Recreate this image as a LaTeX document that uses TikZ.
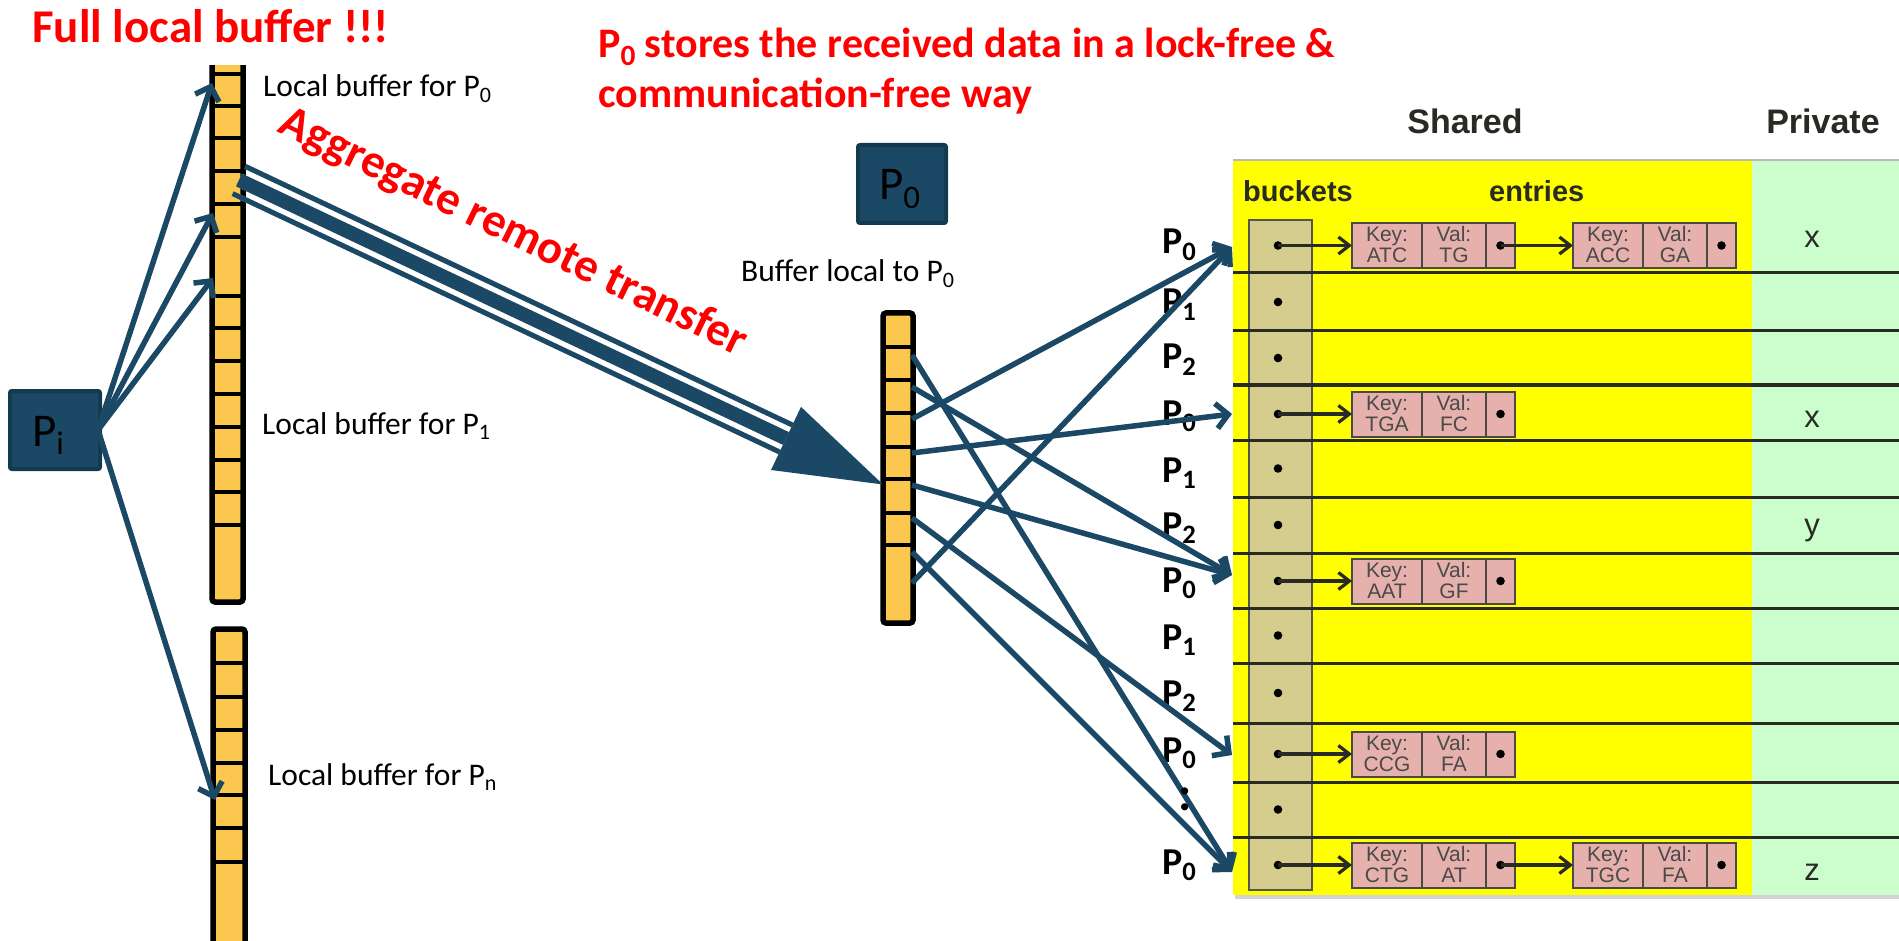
\documentclass[tikz,border=0pt]{standalone}
\usepackage{fontspec}
\usepackage{graphicx}
\setmainfont{Carlito}
\newfontfamily\tablefont{Liberation Sans}
\usetikzlibrary{arrows.meta}

\definecolor{procblue}{HTML}{1B4965}
\definecolor{procedge}{HTML}{143A50}
\definecolor{cellgold}{HTML}{FCC74F}
\definecolor{shareyellow}{HTML}{FFFF00}
\definecolor{privgreen}{HTML}{CCFDCC}
\definecolor{bucketkhaki}{HTML}{D5CD8E}
\definecolor{entrypink}{HTML}{E6B1AC}
\definecolor{tableline}{HTML}{2A2A24}
\definecolor{entrytext}{HTML}{4A4A4A}
\definecolor{alertred}{HTML}{FF0000}
\definecolor{softshadow}{HTML}{C4C4C4}

% subscript used in the processor names
\newcommand\psub[1]{\raisebox{-0.18em}{\scalebox{0.7}{#1}}}

% one hash-table entry: name, left x, centre y, key, value
\newcommand\hentry[5]{%
  \draw[entrybox] (#2,#3-22.5) rectangle (#2+163,#3+22.5);
  \draw[entrydiv] (#2+70,#3-22.5) -- (#2+70,#3+22.5);
  \draw[entrydiv] (#2+134,#3-22.5) -- (#2+134,#3+22.5);
  \node[entrytxt] (#1-k1) at (#2+35,#3-4) {Key:};
  \node[entrytxt] (#1-k2) at (#2+35,#3+17.5) {#4};
  \node[entrytxt] (#1-v1) at (#2+102,#3-4) {Val:};
  \node[entrytxt] (#1-v2) at (#2+102,#3+17.5) {#5};
  \fill[black] (#2+148.5,#3) circle (4.3pt);
  \coordinate (#1-in) at (#2,#3);
  \coordinate (#1-ptr) at (#2+148.5,#3);
}

\tikzset{
  link/.style={draw=procblue, line width=5.5pt, -{Straight Barb[length=12pt, width=25pt]}},
  proc/.style={fill=procblue, draw=procedge, line width=4pt, rounded corners=2pt, inner sep=0pt},
  proctext/.style={font=\fontsize{47pt}{50pt}\selectfont, text=black, inner sep=0pt},
  bufbox/.style={fill=cellgold, draw=black, line width=5.5pt, rounded corners=3pt},
  bufline/.style={draw=black, line width=4.5pt},
  bufnote/.style={font=\fontsize{31.5pt}{34pt}\selectfont, inner sep=0pt, anchor=base west},
  redhead/.style={font=\bfseries\fontsize{47pt}{50pt}\selectfont, text=alertred, inner sep=0pt},
  rednote/.style={font=\bfseries\fontsize{42pt}{46pt}\selectfont, text=alertred, inner sep=0pt, anchor=base west},
  plabel/.style={font=\bfseries\fontsize{38pt}{40pt}\selectfont, inner sep=0pt, anchor=base west},
  rowline/.style={draw=tableline, line width=3pt},
  bucketcol/.style={fill=bucketkhaki, draw=tableline!80, line width=2.5pt},
  entrybox/.style={fill=entrypink, draw=tableline!85, line width=2pt},
  entrydiv/.style={draw=tableline!85, line width=2pt},
  entrytxt/.style={font=\tablefont\fontsize{21pt}{21pt}\selectfont, text=entrytext, inner sep=0pt, anchor=base},
  colhead/.style={font=\tablefont\bfseries\fontsize{34pt}{36pt}\selectfont, text=tableline, inner sep=0pt, anchor=base},
  subhead/.style={font=\tablefont\bfseries\fontsize{29pt}{31pt}\selectfont, text=tableline, inner sep=0pt, anchor=base west},
  privval/.style={font=\tablefont\fontsize{31pt}{33pt}\selectfont, text=tableline, inner sep=0pt, anchor=base},
  ptrarrow/.style={draw=tableline, line width=3.2pt, -{Straight Barb[length=11pt, width=17pt]}},
  bigline/.style={draw=procblue, line width=#1},
  bigshadow/.style={draw=softshadow, line width=#1},
}

\begin{document}
\begin{tikzpicture}[x=1pt,y=-1pt]
\useasboundingbox (0,0) rectangle (1899,941);
\fill[white] (0,0) rectangle (1899,941);

% ---------- hash table: shared and private parts ----------
\fill[gray!35] (1235,895) rectangle (1899,899);
\fill[shareyellow] (1233,160) rectangle (1752,895);
\fill[privgreen] (1752,160) rectangle (1899,895);
\draw[line width=1.5pt, color=gray!55] (1233,160) -- (1899,160);
\node[colhead] (shared) at (1465,134) {Shared};
\node[colhead] (private) at (1823,134) {Private};
\node[subhead] (buckets) at (1243,202) {buckets};
\node[subhead] (entries) at (1489,202) {entries};
\draw[bucketcol] (1249,220) rectangle (1312,890);
\foreach \y in {273,331,385,440,497,553,608,663,723,782,837}
  \draw[rowline] (1233,\y) -- (1899,\y);

% bucket pointers
\foreach \y in {245.5,302,358,414,468.5,525,581,635.5,693,754,809.5,865}
  \fill[black] (1278,\y) circle (4.3pt);

% chained entries
\hentry{eA}{1352}{245.5}{ATC}{TG}
\hentry{eB}{1573}{245.5}{ACC}{GA}
\hentry{eC}{1352}{414}{TGA}{FC}
\hentry{eD}{1352}{581}{AAT}{GF}
\hentry{eE}{1352}{754}{CCG}{FA}
\hentry{eF}{1352}{865}{CTG}{AT}
\hentry{eG}{1573}{865}{TGC}{FA}

\coordinate (bk1) at (1278,245.5);
\coordinate (bk4) at (1278,414);
\coordinate (bk7) at (1278,581);
\coordinate (bk10) at (1278,754);
\coordinate (bk12) at (1278,865);
\draw[ptrarrow] (bk1) -- (eA-in);
\draw[ptrarrow] (eA-ptr) -- (eB-in);
\draw[ptrarrow] (bk4) -- (eC-in);
\draw[ptrarrow] (bk7) -- (eD-in);
\draw[ptrarrow] (bk10) -- (eE-in);
\draw[ptrarrow] (bk12) -- (eF-in);
\draw[ptrarrow] (eF-ptr) -- (eG-in);

% private values
\node[privval] (pv1) at (1812,248) {x};
\node[privval] (pv4) at (1812,427) {x};
\node[privval] (pv6) at (1812,535) {y};
\node[privval] (pv12) at (1812,880) {z};

% ---------- owner labels of the buckets ----------
\node[plabel] (r1) at (1162,254) {P\psub{0}};
\node[plabel] (r2) at (1162,314) {P\psub{1}};
\node[plabel] (r3) at (1162,369) {P\psub{2}};
\node[plabel] (r4) at (1162,425) {P\psub{0}};
\node[plabel] (r5) at (1162,482) {P\psub{1}};
\node[plabel] (r6) at (1162,537) {P\psub{2}};
\node[plabel] (r7) at (1162,592) {P\psub{0}};
\node[plabel] (r8) at (1162,649) {P\psub{1}};
\node[plabel] (r9) at (1162,705) {P\psub{2}};
\node[plabel] (r10) at (1162,762) {P\psub{0}};
\node[plabel] (r12) at (1162,874) {P\psub{0}};

% ---------- send buffers of P_i ----------
\begin{scope}
  \clip (0,66) rectangle (1899,941);
  \draw[bufbox] (212,40) rectangle (243,602);
  \foreach \y in {74,106,138,171,204,237,296,328,361,394,427,460,492,525}
    \draw[bufline] (212,\y) -- (243,\y);
  \draw[bufbox] (213,629) rectangle (245,990);
  \foreach \y in {663,697,730,763,795,828,862}
    \draw[bufline] (213,\y) -- (245,\y);
\end{scope}

% receive buffer of P_0
\draw[bufbox] (883,313) rectangle (913,623);
\foreach \y in {347,380,413,447,479,513,545}
  \draw[bufline] (883,\y) -- (913,\y);

% ---------- processors ----------
\node[proc, minimum width=90pt, minimum height=78pt] (pi) at (55,430) {};
\node[proctext, anchor=base west] (pitext) at (32,446) {P\psub{i}};
\node[proc, minimum width=88pt, minimum height=78pt] (p0) at (902,184) {};
\node[proctext, anchor=base west] (p0text) at (879,200) {P\psub{0}};

% ---------- texts ----------
\node[redhead, anchor=base west] (fullbuf) at (32,43) {Full local buffer !!!};
\node[rednote] (note1) at (598,58) {P\psub{0} stores the received data in a lock-free \&};
\node[rednote] (note2) at (598,108) {communication-free way};
\node[bufnote] (lb0) at (263,97) {Local buffer for P\psub{0}};
\node[bufnote] (lb1) at (262,434) {Local buffer for P\psub{1}};
\node[bufnote] (lbn) at (268,785) {Local buffer for P\psub{n}};
\node[bufnote] (lbm) at (741,282) {Buffer local to P\psub{0}};

% ---------- aggregated transfer ----------
\coordinate (tTs) at (245.4,166.4);
\coordinate (tTe) at (792.4,425);
\coordinate (tMs) at (239,180);
\coordinate (tMe) at (786,438.5);
\coordinate (tBs) at (232.6,193.6);
\coordinate (tBe) at (779.6,452);
\coordinate (hL) at (801,406.9);
\coordinate (hR) at (771,470);
\coordinate (hT) at (883,484.5);
\begin{scope}[shift={(1.5,2.5)}]
  \draw[bigshadow=5pt] (tTs) -- (tTe);
  \draw[bigshadow=14pt] (tMs) -- (tMe);
  \draw[bigshadow=5pt] (tBs) -- (tBe);
\end{scope}
\draw[bigline=5pt] (tTs) -- (tTe);
\draw[bigline=14pt] (tMs) -- (tMe);
\draw[bigline=5pt] (tBs) -- (tBe);
\fill[procblue] (hL) -- (hT) -- (hR) -- cycle;
\node[redhead, rotate=-26, anchor=base] (aggr) at (508,244) {Aggregate remote transfer};

% ---------- P_i fills its local buffers ----------
\coordinate (a0) at (212,83);
\coordinate (a1) at (213,213);
\coordinate (a2) at (213,278);
\coordinate (an) at (215,800);
\draw[link] ([xshift=-4pt]pi.east) -- (a0);
\draw[link] ([xshift=-4pt]pi.east) -- (a1);
\draw[link] ([xshift=-4pt]pi.east) -- (a2);
\draw[link] ([xshift=-4pt]pi.east) -- (an);

% ---------- P_0 stores its buffer into the table ----------
\coordinate (m1) at (912,355);
\coordinate (m2) at (912,387);
\coordinate (m3) at (912,419);
\coordinate (m4) at (912,453);
\coordinate (m5) at (912,485);
\coordinate (m6) at (912,518);
\coordinate (m7) at (912,552);
\coordinate (m8) at (912,583);
\coordinate (t1) at (1232,247);
\coordinate (t4) at (1232,414);
\coordinate (t7) at (1232,575);
\coordinate (t10) at (1232,755);
\coordinate (t12) at (1232,872);
\draw[link] (m1) -- (t12);
\draw[link] (m2) -- (t7);
\draw[link] (m3) -- (t1);
\draw[link] (m4) -- (t4);
\draw[link] (m5) -- (t7);
\draw[link] (m6) -- (t10);
\draw[link] (m7) -- (t12);
\draw[link] (m8) -- (t1);

% elision mark between the last owner labels
\node[plabel, font=\bfseries\fontsize{48pt}{50pt}\selectfont] (r11) at (1178,810) {:};
\end{tikzpicture}
\end{document}
